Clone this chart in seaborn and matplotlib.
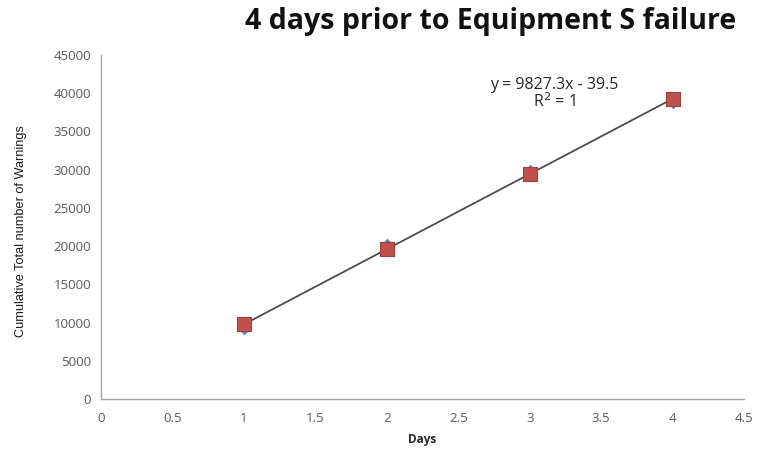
import numpy as np
import pandas as pd
import matplotlib
matplotlib.use("Agg")
import matplotlib.pyplot as plt
from matplotlib import font_manager
import seaborn as sns

days = [1, 2, 3, 4]
warnings_actual = [9150, 20300, 30000, 38750]
slope = 9827.3
intercept = -39.5
trend_values = [slope * d + intercept for d in days]
x_ticks = [0, 0.5, 1, 1.5, 2, 2.5, 3, 3.5, 4, 4.5]
y_ticks = list(range(0, 45001, 5000))
title = "4 days prior to Equipment S failure"
eq_text = "y = 9827.3x - 39.5"
r2_text = "R$^2$ = 1"

sns.set_theme(style="white")
plt.rcParams['font.family'] = ['Open Sans', 'DejaVu Sans']

names = {f.name for f in font_manager.fontManager.ttflist}
if 'Liberation Sans Narrow' in names:
    ylab_family, ylab_size = ['Liberation Sans Narrow', 'DejaVu Sans'], 10.9
else:
    ylab_family, ylab_size = ['Liberation Sans', 'DejaVu Sans'], 9.2

fig = plt.figure(figsize=(7.6, 4.49), dpi=100)
ax = fig.add_axes([0.133, 0.111, 0.846, 0.7665])

df = pd.DataFrame({"Days": days, "Actual": warnings_actual, "Trend": trend_values})

sns.lineplot(data=df, x="Days", y="Trend", ax=ax, color="#4d4d4d", linewidth=1.3, zorder=2)
sns.scatterplot(data=df, x="Days", y="Actual", ax=ax, marker="D", s=30, color="#4F81BD",
                edgecolor="#4F81BD", zorder=3)
sns.scatterplot(data=df, x="Days", y="Trend", ax=ax, marker="s", s=110, color="#C0504D",
                edgecolor="#A0403D", linewidth=0.8, zorder=4)

ax.set_xlim(0, 4.5)
ax.set_ylim(0, 45000)
ax.set_xticks(x_ticks)
ax.set_xticklabels([f"{t:g}" for t in x_ticks])
ax.set_yticks(y_ticks)
ax.set_yticklabels([str(t) for t in y_ticks])

for s in ["top", "right"]:
    ax.spines[s].set_visible(False)
for s in ["left", "bottom"]:
    ax.spines[s].set_color("#A6A6A6")
    ax.spines[s].set_linewidth(1.0)

ax.tick_params(axis="both", which="both", direction="out", length=4, width=1,
               color="#A6A6A6", labelsize=9.5, labelcolor="#595959")
ax.tick_params(axis="x", pad=5)
ax.tick_params(axis="y", pad=3)

ax.set_xlabel("Days", fontsize=8.5, fontweight="bold", color="#262626", labelpad=6)
ax.set_ylabel("Cumulative Total number of Warnings", fontsize=ylab_size,
              family=ylab_family, color="#1a1a1a")
ax.yaxis.label.set_va("center")
ax.yaxis.set_label_coords(-0.125, 0.488)

ax.text(3.17, 41100, eq_text, ha="center", va="center", fontsize=11.5, color="#262626")
ax.text(3.17, 38850, r2_text, ha="center", va="center", fontsize=11.5, color="#262626")

fig.text(0.645, 0.953, title, ha="center", va="center", fontsize=20.5, fontweight="bold", color="#111111")

fig.savefig("out.png", dpi=100)
